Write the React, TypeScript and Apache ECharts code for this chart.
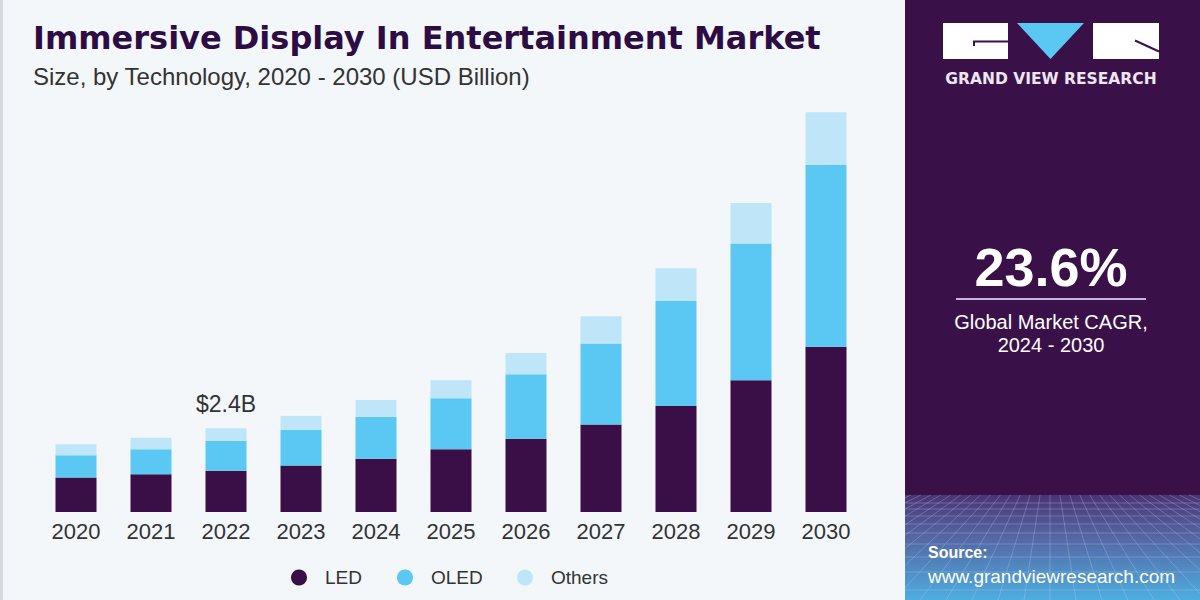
import React, { useEffect, useRef } from "react";
import * as echarts from "echarts";

const years = ["2020", "2021", "2022", "2023", "2024", "2025", "2026", "2027", "2028", "2029", "2030"];
const ledValues = [0.99, 1.08, 1.18, 1.33, 1.53, 1.8, 2.1, 2.51, 3.04, 3.78, 4.74];
const oledValues = [0.64, 0.72, 0.86, 1.02, 1.2, 1.46, 1.85, 2.32, 3.01, 3.92, 5.21];
const othersValues = [0.31, 0.33, 0.36, 0.41, 0.48, 0.52, 0.61, 0.78, 0.94, 1.16, 1.51];
const seriesNames = ["LED", "OLED", "Others"];
const annotatedIndex = 2;
const annotationText = "$2.4B";
const titleText = "Immersive Display In Entertainment Market";
const subtitleText = "Size, by Technology, 2020 - 2030 (USD Billion)";
const cagrText = "23.6%";
const cagrLabel = "Global Market CAGR,";
const cagrPeriod = "2024 - 2030";

const C_LED = "#3A0F47";
const C_OLED = "#5BC8F4";
const C_OTH = "#BEE6F8";
const C_PANEL = "#3A1049";
const FONT = "Liberation Sans";

export default function App() {
  const ref = useRef<HTMLDivElement>(null);
  useEffect(() => {
    if (!ref.current) return;
    const chart = echarts.init(ref.current, null, { renderer: "svg" });

    const meshStyle = { stroke: "rgba(190,215,245,0.28)", lineWidth: 1 };
    const meshLines: any[] = [];
    const hy = [503, 509, 516, 524, 533, 544, 557, 572, 590];
    hy.forEach((y) => {
      meshLines.push({
        type: "line",
        silent: true,
        shape: { x1: 905, y1: y, x2: 1200, y2: y },
        style: meshStyle,
      });
    });
    const PX0 = 905, PX1 = 1200, TOPY = 495, BOTY = 600;
    const vx = 1050, vy = 430;
    for (let i = -14; i <= 14; i++) {
      const bx = vx + i * 26;
      const f = (TOPY - vy) / (BOTY - vy);
      const x1 = vx + (bx - vx) * f;
      const dx = bx - x1;
      let t0 = 0, t1 = 1;
      if (Math.abs(dx) > 1e-6) {
        const ta = (PX0 - x1) / dx;
        const tb = (PX1 - x1) / dx;
        t0 = Math.max(0, Math.min(ta, tb));
        t1 = Math.min(1, Math.max(ta, tb));
      } else if (x1 < PX0 || x1 > PX1) {
        continue;
      }
      if (t1 <= t0) continue;
      meshLines.push({
        type: "line",
        silent: true,
        shape: {
          x1: x1 + dx * t0,
          y1: TOPY + (BOTY - TOPY) * t0,
          x2: x1 + dx * t1,
          y2: TOPY + (BOTY - TOPY) * t1,
        },
        style: meshStyle,
      });
    }

    const option: any = {
      animation: false,
      backgroundColor: "#F3F7FA",
      title: [
        {
          text: titleText,
          left: 33,
          top: 22,
          padding: 0,
          textStyle: { fontFamily: "DejaVu Sans", fontWeight: "bold", fontSize: 32, color: "#2D0C43" },
        },
        {
          text: subtitleText,
          left: 33,
          top: 64,
          padding: 0,
          textStyle: { fontFamily: FONT, fontWeight: "normal", fontSize: 24, color: "#333333" },
        },
      ],
      legend: seriesNames.map((n, i) => ({
        data: [n],
        left: [291, 397, 517][i],
        top: 568,
        padding: 0,
        icon: "circle",
        itemWidth: 42,
        itemHeight: 16,
        textStyle: { fontFamily: FONT, fontSize: 19, color: "#333333", padding: [0, 0, 0, 0] },
        selectedMode: false,
      })),
      grid: { left: 38.5, right: 336.5, top: 93.5, bottom: 88 },
      xAxis: {
        type: "category",
        data: years,
        axisLine: { show: false },
        axisTick: { show: false },
        axisLabel: { fontFamily: FONT, fontSize: 22, color: "#333333", margin: 8 },
      },
      yAxis: {
        type: "value",
        min: 0,
        max: 12,
        show: false,
        splitLine: { show: false },
      },
      series: [
        {
          name: "LED",
          type: "bar",
          stack: "total",
          barWidth: 41,
          itemStyle: { color: C_LED },
          data: ledValues,
        },
        {
          name: "OLED",
          type: "bar",
          stack: "total",
          barWidth: 41,
          itemStyle: { color: C_OLED },
          data: oledValues,
        },
        {
          name: "Others",
          type: "bar",
          stack: "total",
          barWidth: 41,
          itemStyle: { color: C_OTH },
          data: othersValues.map((v, i) =>
            i === annotatedIndex
              ? {
                  value: v,
                  label: {
                    show: true,
                    position: "top",
                    distance: 13,
                    formatter: annotationText,
                    fontFamily: FONT,
                    fontSize: 23,
                    color: "#333333",
                  },
                }
              : v
          ),
        },
      ],
      graphic: [
        { type: "rect", silent: true, shape: { x: 0, y: 0, width: 3, height: 600 }, style: { fill: "#D6D9DD" } },
        { type: "rect", silent: true, shape: { x: 905, y: 0, width: 295, height: 600 }, style: { fill: C_PANEL } },
        {
          type: "rect",
          silent: true,
          shape: { x: 905, y: 495, width: 295, height: 105 },
          style: {
            fill: new echarts.graphic.LinearGradient(0, 0, 0, 1, [
              { offset: 0, color: "#4A3475" },
              { offset: 0.35, color: "#55609E" },
              { offset: 1, color: "#4DAEE0" },
            ]),
          },
        },
        ...meshLines,
        { type: "rect", silent: true, shape: { x: 943, y: 23, width: 65, height: 36 }, style: { fill: "#FFFFFF" } },
        {
          type: "polyline",
          silent: true,
          shape: { points: [[1008, 41.5], [974, 41.5], [974, 46]] },
          style: { stroke: C_PANEL, lineWidth: 2, fill: null },
        },
        {
          type: "polygon",
          silent: true,
          shape: { points: [[1017, 23], [1084, 23], [1050.5, 59]] },
          style: { fill: "#5BC8F4" },
        },
        { type: "rect", silent: true, shape: { x: 1093, y: 23, width: 66, height: 36 }, style: { fill: "#FFFFFF" } },
        {
          type: "line",
          silent: true,
          shape: { x1: 1135, y1: 40.5, x2: 1159, y2: 51.5 },
          style: { stroke: C_PANEL, lineWidth: 2 },
        },
        {
          type: "text",
          silent: true,
          x: 1051,
          y: 78.5,
          style: {
            text: "GRAND VIEW RESEARCH",
            fill: "#EDE6F3",
            font: "bold 15.5px 'DejaVu Sans'",
            align: "center",
            verticalAlign: "middle",
          },
        },
        {
          type: "text",
          silent: true,
          x: 1051,
          y: 267,
          style: {
            text: cagrText,
            fill: "#FFFFFF",
            font: "bold 54px 'Liberation Sans'",
            align: "center",
            verticalAlign: "middle",
          },
        },
        {
          type: "line",
          silent: true,
          shape: { x1: 956, y1: 299, x2: 1146, y2: 299 },
          style: { stroke: "#C5B3DD", lineWidth: 2 },
        },
        {
          type: "text",
          silent: true,
          x: 1051,
          y: 322,
          style: {
            text: cagrLabel,
            fill: "#FFFFFF",
            font: "20px 'Liberation Sans'",
            align: "center",
            verticalAlign: "middle",
          },
        },
        {
          type: "text",
          silent: true,
          x: 1051,
          y: 345,
          style: {
            text: cagrPeriod,
            fill: "#FFFFFF",
            font: "20px 'Liberation Sans'",
            align: "center",
            verticalAlign: "middle",
          },
        },
        {
          type: "text",
          silent: true,
          x: 928,
          y: 552,
          style: {
            text: "Source:",
            fill: "#FFFFFF",
            font: "bold 16px 'Liberation Sans'",
            align: "left",
            verticalAlign: "middle",
          },
        },
        {
          type: "text",
          silent: true,
          x: 928,
          y: 576,
          style: {
            text: "www.grandviewresearch.com",
            fill: "#FFFFFF",
            font: "19px 'Liberation Sans'",
            align: "left",
            verticalAlign: "middle",
          },
        },
      ],
    };
    chart.setOption(option);
    return () => chart.dispose();
  }, []);
  return (
    <div
      ref={ref}
      style={{ position: "fixed", left: 0, top: 0, width: 1200, height: 600 }}
    />
  );
}
